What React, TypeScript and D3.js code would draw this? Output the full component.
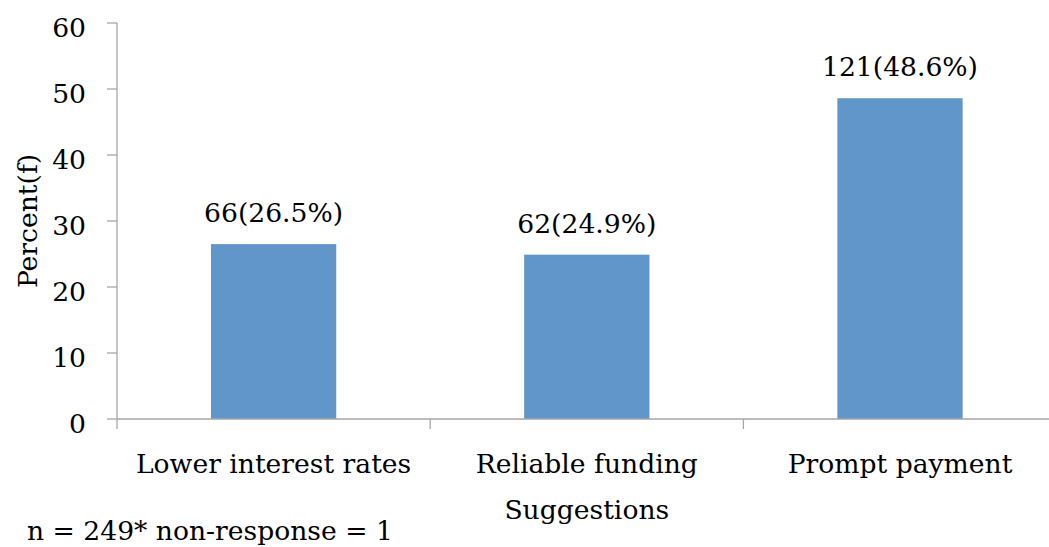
import React from "react";
import * as d3 from "d3";

const categories = ["Lower interest rates", "Reliable funding", "Prompt payment"];
const percents = [26.5, 24.9, 48.6];
const counts = [66, 62, 121];
const yTicks = [0, 10, 20, 30, 40, 50, 60];

const W = 1049;
const H = 547;
const FONT = "'DejaVu Serif', serif";
const FS = 26.6;

export default function App() {
  const left = 117;
  const top = 23;
  const bottom = 419;
  const band = 313.2;
  const right = left + band * categories.length;

  const x = d3.scaleBand<string>().domain(categories).range([left, right]).paddingInner(0.6).paddingOuter(0.3);
  const y = d3.scaleLinear().domain([0, 60]).range([bottom, top]);
  const axisColor = "#a6a6a6";
  const catTicks = d3.range(categories.length + 1).map((i) => left + i * band);

  return (
    <svg width={W} height={H} style={{ position: "absolute", left: 0, top: 0, background: "#fff" }}>
      <g fontFamily={FONT} fill="#000">
        {/* value axis */}
        <line x1={left} x2={left} y1={top} y2={bottom} stroke={axisColor} strokeWidth={1.3} />
        {yTicks.map((t) => (
          <g key={t}>
            <line x1={left - 10} x2={left} y1={y(t)} y2={y(t)} stroke={axisColor} strokeWidth={1.3} />
            <text x={86} y={y(t) + 14} textAnchor="end" fontSize={FS}>
              {t}
            </text>
          </g>
        ))}
        {/* bars */}
        {categories.map((c, i) => (
          <rect key={c} x={x(c)} y={y(percents[i])} width={x.bandwidth()} height={y(0) - y(percents[i])} fill="#6096c9" />
        ))}
        {/* category axis */}
        <line x1={left} x2={right} y1={bottom} y2={bottom} stroke={axisColor} strokeWidth={1.3} />
        {catTicks.map((t, i) => (
          <line key={i} x1={t} x2={t} y1={bottom} y2={bottom + 10} stroke={axisColor} strokeWidth={1.3} />
        ))}
        {categories.map((c) => (
          <text key={c} x={x(c)! + x.bandwidth() / 2} y={472.5} textAnchor="middle" fontSize={FS}>
            {c}
          </text>
        ))}
        {/* data labels */}
        {categories.map((c, i) => (
          <text key={c} x={x(c)! + x.bandwidth() / 2} y={y(percents[i]) - 22} textAnchor="middle" fontSize={FS}>
            {`${counts[i]}(${percents[i]}%)`}
          </text>
        ))}
        {/* axis titles */}
        <text x={(left + right) / 2} y={519} textAnchor="middle" fontSize={FS}>
          Suggestions
        </text>
        <text transform={`translate(37,${(top + bottom) / 2}) rotate(-90)`} textAnchor="middle" fontSize={FS}>
          Percent(f)
        </text>
        <text x={27} y={540} fontSize={FS}>
          n = 249* non-response = 1
        </text>
      </g>
    </svg>
  );
}
